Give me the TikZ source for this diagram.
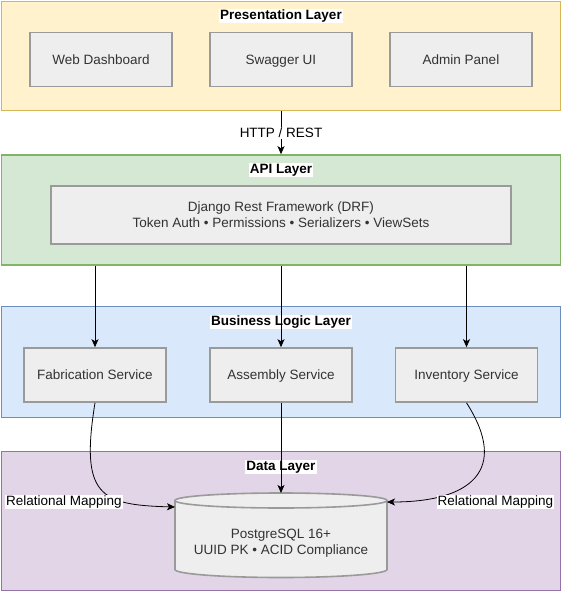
\documentclass[tikz,border=0pt]{standalone}
\usepackage{fontspec}
\setmainfont{Liberation Sans}
\usetikzlibrary{arrows.meta,calc}
\definecolor{presF}{HTML}{FFF2CC}\definecolor{presD}{HTML}{D6B656}
\definecolor{apiF}{HTML}{D5E8D4}\definecolor{apiD}{HTML}{82B366}
\definecolor{busF}{HTML}{DAE8FC}\definecolor{busD}{HTML}{6C8EBF}
\definecolor{dataF}{HTML}{E1D5E7}\definecolor{dataD}{HTML}{9673A6}
\definecolor{boxF}{HTML}{EEEEEE}\definecolor{boxD}{HTML}{9A9A9A}
\definecolor{txt}{HTML}{333333}
\begin{document}
\begin{tikzpicture}[x=1pt,y=-1pt,
  layer/.style={draw, line width=1.6pt, inner sep=0pt},
  box/.style={draw=boxD, fill=boxF, line width=1.6pt, inner sep=0pt, text=txt,
    font=\fontsize{13.5}{16}\selectfont, align=center},
  sbox/.style={box, minimum width=142, minimum height=54, text height=12pt, text depth=3pt},
  ttl/.style={fill=white, inner sep=1pt, font=\fontsize{13.5}{16}\selectfont\bfseries},
  lbl/.style={fill=white, inner sep=1pt, font=\fontsize{13.5}{16}\selectfont},
  arr/.style={draw=black, line width=0.8pt, -{Stealth[length=8pt,width=7pt,inset=2pt]}}]
\fill[white] (0,0) rectangle (562,592);
\useasboundingbox (0,0) rectangle (562,592);
% layers
\node[layer, draw=presD, fill=presF, minimum width=559, minimum height=109] (pres) at (281,55.8) {};
\node[layer, draw=apiD, fill=apiF, minimum width=559, minimum height=110] (api) at (281,210) {};
\node[layer, draw=busD, fill=busF, minimum width=559, minimum height=111] (bus) at (281,362) {};
\node[layer, draw=dataD, fill=dataF, minimum width=559, minimum height=139] (data) at (281,521) {};
% titles
\node[ttl] (presT) at (281,16) {Presentation Layer};
\node[ttl] (apiT) at (281,170) {API Layer};
\node[ttl] (busT) at (281,322) {Business Logic Layer};
\node[ttl] (dataT) at (281,467) {Data Layer};
% presentation boxes
\node[sbox] (web) at (101,59.5) {Web Dashboard};
\node[sbox] (swag) at (281,59.5) {Swagger UI};
\node[sbox] (admin) at (461,59.5) {Admin Panel};
% API box
\node[box, minimum width=460, minimum height=58] (drf) at (281,215) {Django Rest Framework (DRF)\\Token Auth • Permissions • Serializers • ViewSets};
% services
\node[sbox] (fab) at (95,375) {Fabrication Service};
\node[sbox] (asm) at (281,375) {Assembly Service};
\node[sbox] (inv) at (466.5,375) {Inventory Service};
% database cylinder
\path[draw=boxD, fill=boxF, line width=1.6pt]
  (175,500.5) -- (175,569.5) arc[start angle=180, end angle=0, x radius=106, y radius=8]
  -- (387,500.5) arc[start angle=0, end angle=-180, x radius=106, y radius=7.5] -- cycle;
\draw[draw=boxD, line width=1.6pt] (175,500.5) arc[start angle=180, end angle=0, x radius=106, y radius=7.5];
\node[inner sep=0pt, text=txt, font=\fontsize{13.5}{16}\selectfont, align=center] (db) at (281,543) {PostgreSQL 16+\\UUID PK • ACID Compliance};
\coordinate (dbTop) at (281,493);
\coordinate (dbL) at (175,507);
\coordinate (dbR) at (387,502);
% connectors
\draw[arr] (pres.south) -- node[lbl] (http) {HTTP / REST} (api.north);
\draw[arr] (api.south -| fab.north) -- (fab.north);
\draw[arr] (api.south) -- (asm.north);
\draw[arr] (api.south -| inv.north) -- (inv.north);
\draw[arr] (asm.south) -- (dbTop);
\draw[arr] (fab.south) .. controls +(-15,93) and +(-75,-2) .. (dbL);
\draw[arr] (inv.south) .. controls +(43.5,68) and +(83,0) .. (dbR);
\node[lbl] (relL) at (64,502) {Relational Mapping};
\node[lbl] (relR) at (495.5,502) {Relational Mapping};
\end{tikzpicture}
\end{document}
